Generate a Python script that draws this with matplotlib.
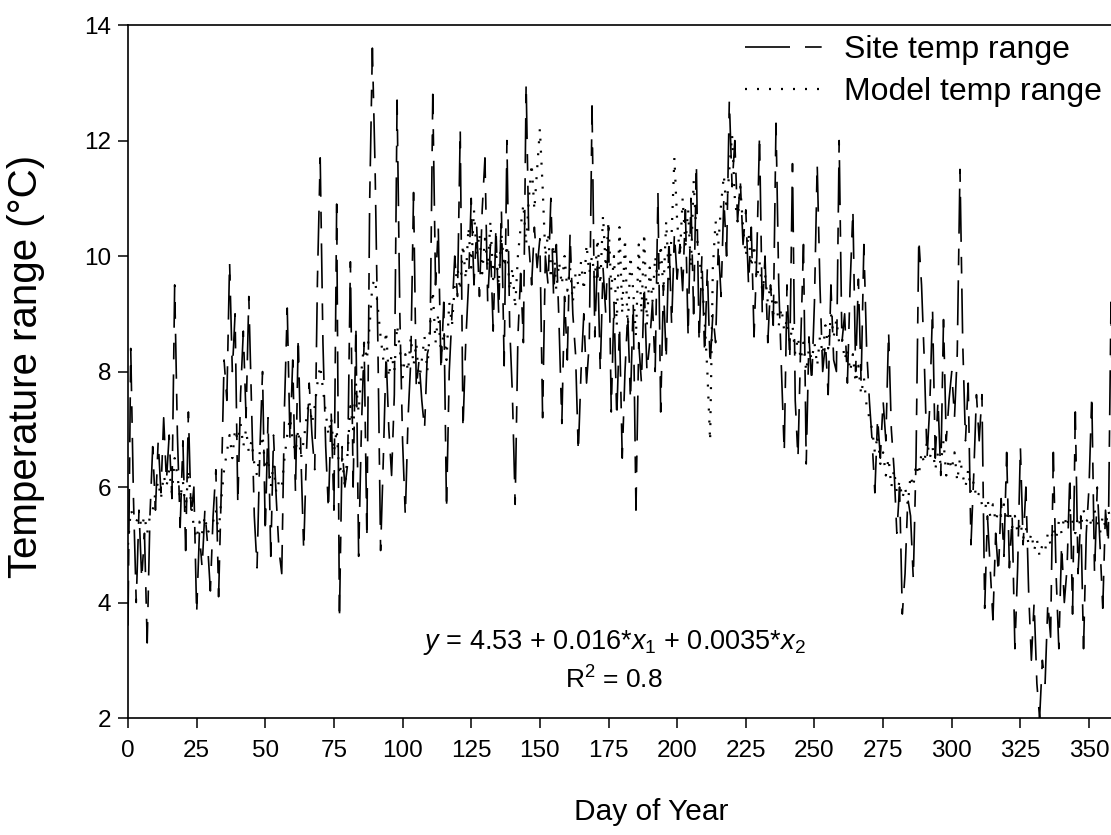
import numpy as np
import matplotlib
matplotlib.use("Agg")
import matplotlib.pyplot as plt

plt.rcParams['font.family'] = ['Liberation Sans', 'DejaVu Sans']
plt.rcParams['mathtext.fontset'] = 'custom'
plt.rcParams['mathtext.rm'] = 'Liberation Sans'
plt.rcParams['mathtext.it'] = 'Liberation Sans:italic'

# daily temperature range at the site (degC), day 0 .. 364
site_range = [
    3.6, 8.4, 5.8, 4.0, 5.6, 4.4, 5.2, 3.3, 5.5, 6.7,
    5.6, 6.8, 5.9, 7.2, 6.1, 6.9, 5.8, 9.5, 6.9, 5.3,
    6.8, 4.9, 7.3, 5.5, 6.0, 3.8, 5.2, 4.6, 5.6, 5.0,
    4.2, 5.5, 6.3, 4.1, 6.0, 8.2, 7.5, 9.9, 8.0, 9.0,
    5.7, 7.6, 8.7, 7.2, 9.3, 7.4, 5.5, 4.6, 6.6, 8.0,
    5.2, 7.2, 4.8, 6.9, 5.8, 4.9, 4.5, 7.4, 9.1, 6.8,
    8.2, 5.9, 8.6, 6.5, 4.9, 6.6, 7.8, 6.9, 6.3, 9.6,
    11.7, 8.5, 6.7, 5.6, 7.3, 5.6, 10.9, 3.7, 6.7, 6.0,
    6.4, 9.9, 6.0, 8.8, 4.8, 7.0, 8.5, 5.1, 10.9, 13.6,
    11.5, 8.5, 4.9, 6.5, 8.3, 7.0, 6.2, 7.6, 12.7, 9.0,
    6.8, 5.5, 7.2, 8.2, 11.1, 7.7, 8.2, 7.5, 7.0, 8.3,
    8.5, 12.8, 9.5, 10.5, 8.0, 9.2, 5.6, 8.0, 9.0, 10.0,
    9.3, 12.2, 7.0, 8.5, 9.5, 11.0, 9.5, 10.5, 9.3, 10.8,
    11.7, 9.2, 10.2, 8.7, 10.5, 9.0, 10.8, 8.1, 12.0, 8.8,
    7.6, 5.7, 8.6, 9.7, 8.5, 13.0, 10.2, 9.5, 10.5, 9.8,
    10.3, 7.2, 10.0, 9.5, 11.0, 9.3, 10.2, 8.8, 7.1, 9.3,
    8.2, 10.4, 9.0, 8.3, 6.6, 8.0, 9.0, 7.8, 8.5, 12.6,
    8.6, 10.0, 8.0, 9.8, 9.0, 10.5, 7.3, 9.2, 7.2, 8.8,
    6.5, 8.0, 9.0, 7.5, 9.2, 5.6, 8.5, 7.8, 9.5, 8.0,
    8.5, 9.2, 8.0, 11.1, 7.3, 9.5, 8.2, 10.3, 8.8, 10.4,
    9.6, 10.2, 9.4, 10.8, 8.6, 11.0, 9.0, 11.6, 8.5, 10.0,
    8.3, 9.8, 8.1, 9.0, 8.5, 10.2, 9.3, 11.0, 10.0, 12.7,
    11.2, 12.0, 10.6, 11.3, 10.2, 10.8, 9.5, 10.5, 8.6, 10.0,
    12.1, 9.0, 10.0, 8.5, 9.5, 8.8, 12.3, 9.5, 8.0, 6.6,
    9.5, 8.2, 11.6, 7.5, 6.5, 8.5, 10.2, 6.4, 8.6, 7.8,
    9.2, 11.6, 9.5, 8.0, 8.5, 7.6, 9.5, 8.2, 8.0, 12.0,
    8.5, 9.0, 7.8, 9.5, 10.8, 8.0, 9.6, 7.8, 10.2, 8.4,
    7.5, 6.8, 5.9, 7.2, 6.5, 7.5, 6.8, 8.7, 7.0, 6.3,
    5.2, 6.0, 3.8, 4.5, 5.8, 5.5, 4.4, 6.5, 10.3, 9.5,
    8.2, 6.5, 7.4, 9.1, 6.5, 7.5, 6.2, 8.9, 6.8, 7.5,
    8.0, 7.2, 8.3, 11.5, 8.5, 6.8, 7.8, 5.0, 6.2, 7.6,
    6.8, 7.6, 3.9, 5.5, 4.6, 3.7, 5.2, 4.5, 5.8, 4.8,
    6.6, 4.6, 5.5, 3.2, 4.6, 6.7, 5.0, 6.0, 4.2, 3.0,
    4.0, 2.6, 2.0, 3.0, 2.6, 4.0, 3.4, 6.6, 4.5, 3.2,
    5.0, 4.0, 4.6, 6.2, 3.8, 7.3, 4.5, 5.5, 3.2, 5.2,
    6.0, 7.6, 4.5, 6.0, 5.0, 3.9, 5.6, 5.0, 9.2, 5.5,
    6.0, 4.8, 5.5, 5.0, 5.8,
]

# modelled daily temperature range (degC), day 0 .. 364
model_range = [
    5.0, 5.6, 5.5, 5.4, 5.5, 5.3, 5.5, 5.2, 5.5, 5.6,
    5.9, 6.1, 5.8, 6.2, 6.0, 6.3, 5.9, 6.5, 6.2, 5.8,
    6.1, 5.6, 6.3, 5.7, 5.3, 5.1, 5.4, 5.2, 5.5, 5.2,
    5.3, 5.4, 5.6, 5.2, 5.8, 6.3, 6.6, 6.9, 6.5, 7.0,
    6.8, 7.1, 6.7, 7.0, 6.6, 6.8, 6.4, 6.2, 6.6, 6.9,
    6.3, 6.5, 6.0, 6.4, 5.9, 6.1, 6.0, 6.5, 6.9, 7.2,
    6.8, 6.6, 7.0, 6.5, 6.8, 7.2, 7.5, 7.1, 7.4, 7.8,
    8.1, 7.7, 7.3, 6.9, 7.2, 6.6, 7.0, 6.2, 6.5, 6.0,
    6.6, 7.4, 7.0, 7.8, 7.3, 8.0, 8.5, 8.2, 8.8, 9.5,
    9.6, 9.1, 8.6, 8.2, 8.7, 7.9, 8.3, 8.0, 8.8, 8.4,
    7.9, 8.3, 8.0, 8.6, 8.1, 8.5, 7.8, 8.2, 8.6, 8.0,
    8.8, 9.4, 8.5, 9.0, 8.3, 8.7, 8.2, 9.2, 8.8, 9.5,
    9.8, 9.4, 10.2, 9.6, 10.5, 9.8, 10.8, 10.0, 10.4, 9.7,
    10.3, 9.8, 10.6, 9.6, 10.1, 9.5, 10.4, 9.8, 10.2, 9.4,
    9.8, 9.1, 10.0, 10.5, 10.9, 10.2, 11.0, 11.6, 10.8, 11.5,
    12.2, 11.2, 10.0, 10.4, 9.6, 10.2, 9.4, 9.9, 9.5, 10.0,
    9.4, 9.8, 9.2, 9.7, 9.5, 9.9, 9.4, 10.2, 9.7, 10.0,
    9.6, 10.3, 9.5, 10.7, 9.8, 10.6, 9.4, 10.0, 8.8, 10.5,
    9.0, 10.3, 8.7, 10.0, 9.4, 8.6, 10.2, 9.0, 10.4, 8.8,
    9.8, 9.2, 10.0, 9.5, 10.2, 9.4, 10.6, 9.6, 10.4, 11.7,
    10.6, 10.0, 11.0, 10.2, 10.8, 9.8, 11.3, 10.4, 10.0, 9.6,
    8.9, 8.0, 6.8, 9.8, 10.6, 10.2, 10.9, 11.4, 10.8, 11.5,
    12.1, 11.0, 10.6, 11.2, 10.5, 10.0, 10.4, 9.8, 10.2, 9.6,
    9.9, 9.4, 9.7, 9.2, 9.5, 9.0, 9.3, 8.8, 9.1, 8.7,
    8.9, 8.5, 8.8, 8.3, 8.6, 8.2, 8.5, 8.0, 8.4, 8.2,
    8.5, 8.1, 8.6, 8.3, 8.8, 8.4, 9.0, 8.6, 8.9, 8.5,
    8.6, 8.2, 8.4, 8.0, 8.3, 7.8, 8.1, 7.6, 7.9, 7.4,
    7.2, 7.0, 6.6, 6.9, 6.4, 6.6, 6.2, 6.5, 6.0, 6.3,
    5.9, 6.1, 5.8, 6.0, 5.7, 6.2, 6.0, 6.4, 6.2, 6.6,
    6.4, 6.8, 6.5, 6.7, 6.3, 6.6, 6.4, 6.8, 6.2, 6.5,
    6.3, 6.6, 6.1, 6.5, 6.2, 6.0, 6.3, 5.9, 6.1, 5.8,
    5.9, 5.7, 5.6, 5.8, 5.5, 5.7, 5.4, 5.6, 5.5, 5.7,
    5.4, 5.6, 5.3, 5.5, 5.2, 5.4, 5.1, 5.3, 5.0, 5.2,
    4.9, 5.1, 4.8, 5.0, 4.9, 5.2, 5.0, 5.3, 5.1, 5.4,
    5.2, 5.5, 5.3, 5.6, 5.4, 5.2, 5.5, 5.3, 5.6, 5.4,
    5.5, 5.3, 5.6, 5.4, 5.2, 5.5, 5.3, 5.6, 5.4, 5.5,
    5.3, 5.6, 5.4, 5.5, 5.3,
]

days = np.arange(len(site_range))
x_ticks = list(range(0, 375, 25))
y_ticks = [2, 4, 6, 8, 10, 12, 14]

fig = plt.figure(figsize=(11.11, 8.35), dpi=100)
# axes run to day 365, a little past the right edge of the picture
ax = fig.add_axes([0.1152, 0.1401, 0.9021, 0.8299])

ax.plot(days, site_range, color="black", linewidth=1.2,
        linestyle=(0, (27, 9, 10, 9)), label="Site temp range")
ax.plot(days, model_range, color="black", linewidth=1.6,
        linestyle=(0, (0.9, 4.5)), label="Model temp range")

ax.set_xlim(0, 365)
ax.set_ylim(2, 14)
ax.set_xticks(x_ticks)
ax.set_yticks(y_ticks)
ax.tick_params(direction="out", length=7, width=1.1, labelsize=17.5)
ax.tick_params(axis="x", pad=9)
ax.tick_params(axis="y", pad=5)
for s in ax.spines.values():
    s.set_linewidth(1.2)

ax.set_xlabel("Day of Year", fontsize=21.5)
ax.xaxis.set_label_coords(0.522, -0.116)
ax.set_ylabel("Temperature range (°C)", fontsize=29)
ax.yaxis.set_label_coords(-0.083, 0.508)

# regression equation and fit
fig.text(0.553, 0.231,
         r"$\it{y}$ = 4.53 + 0.016*$\it{x}_{\it{1}}$ + 0.0035*$\it{x}_{2}$",
         ha="center", va="center", fontsize=19.5)
fig.text(0.553, 0.186, "R$^{2}$ = 0.8", ha="center", va="center", fontsize=19)

ax.legend(loc="upper left", bbox_to_anchor=(745 / 1111, 1 - 35 / 835),
          bbox_transform=fig.transFigure, frameon=False, fontsize=23,
          handlelength=2.5, handletextpad=0.6, labelspacing=0.38,
          borderpad=0, borderaxespad=0)

fig.savefig("out.png", dpi=100)
